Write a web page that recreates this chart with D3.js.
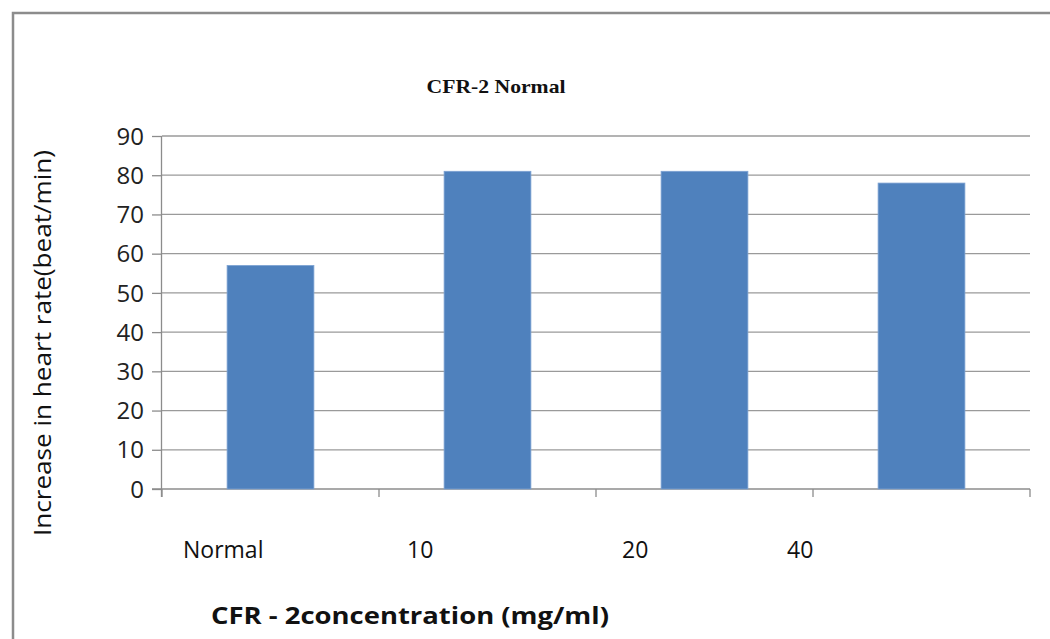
<!DOCTYPE html>
<html><head><meta charset="utf-8">
<script src="https://cdn.jsdelivr.net/npm/d3@7"></script>
<style>body{margin:0;background:#fff}svg{display:block}</style>
</head><body>
<svg id="c" width="1050" height="639"></svg>
<script>
const categories = ["Normal", "10", "20", "40"];
const values = [57, 81, 81, 78];
const yTicks = [0, 10, 20, 30, 40, 50, 60, 70, 80, 90];
const title = "CFR-2 Normal";
const yTitle = "Increase in heart rate(beat/min)";
const xTitle = "CFR - 2concentration (mg/ml)";

const svg = d3.select("#c");
const L = 162, R = 1030, T = 136, B = 489;
const x = d3.scaleBand().domain(categories).range([L, R]).paddingInner(0.6).paddingOuter(0.3);
const xb = d3.scaleBand().domain(categories).range([L, R]);
const y = d3.scaleLinear().domain([0, 90]).range([B, T]);

// outer border
svg.append("path").attr("d", `M13,639 V13 H1050`).attr("fill", "none").attr("stroke", "#8c8c8c").attr("stroke-width", 2.5);

// gridlines
svg.append("g").selectAll("line").data(yTicks.filter(d => d > 0)).join("line")
  .attr("x1", L).attr("x2", R).attr("y1", d => y(d)).attr("y2", d => y(d))
  .attr("stroke", "#9a9a9a").attr("stroke-width", 1.3);

// y axis
const ya = svg.append("g").attr("transform", `translate(${L},0)`)
  .call(d3.axisLeft(y).tickValues(yTicks).tickSize(10).tickPadding(8).tickFormat(d3.format("d")));
ya.select(".domain").attr("stroke", "#8c8c8c").attr("stroke-width", 1.3).attr("d", `M-0.5,${T}V${B + 8}`);
ya.selectAll(".tick line").attr("stroke", "#8c8c8c").attr("stroke-width", 1.3);
ya.selectAll(".tick text").attr("font-family", "Open Sans, sans-serif").attr("font-size", 24).attr("fill", "#222").attr("dy", "0.34em");

// x axis line + ticks at band boundaries
svg.append("line").attr("x1", L - 10).attr("x2", R).attr("y1", B).attr("y2", B).attr("stroke", "#8c8c8c").attr("stroke-width", 1.3);
const bounds = categories.map(c => xb(c)).concat([R]);
svg.append("g").selectAll("line").data(bounds).join("line")
  .attr("x1", d => d).attr("x2", d => d).attr("y1", B).attr("y2", B + 8)
  .attr("stroke", "#8c8c8c").attr("stroke-width", 1.3);

// bars
svg.append("g").selectAll("rect").data(values).join("rect")
  .attr("x", (d, i) => x(categories[i])).attr("width", x.bandwidth())
  .attr("y", d => y(d)).attr("height", d => B - y(d))
  .attr("fill", "#4f81bd").attr("stroke", "#7ea3d3").attr("stroke-width", 0.8);

// category labels (placed relative to band starts, as in the original)
const labelShift = [21, 28, 26, -26];
svg.append("g").selectAll("text").data(categories).join("text")
  .attr("x", (d, i) => xb(d) + labelShift[i]).attr("y", 558)
  .attr("font-family", "Open Sans, sans-serif").attr("font-size", 23).attr("fill", "#111")
  .text(d => d);

// title
svg.append("text").attr("x", 496).attr("y", 93).attr("text-anchor", "middle")
  .attr("font-family", "Liberation Serif, serif").attr("font-weight", "bold").attr("font-size", 19).attr("fill", "#111")
  .attr("textLength", 139).attr("lengthAdjust", "spacingAndGlyphs")
  .text(title);

// y title
svg.append("text").attr("transform", `translate(51,343) rotate(-90)`).attr("text-anchor", "middle")
  .attr("font-family", "Open Sans, sans-serif").attr("font-size", 23).attr("fill", "#111")
  .attr("textLength", 386).attr("lengthAdjust", "spacingAndGlyphs")
  .text(yTitle);

// x title
svg.append("text").attr("x", 211).attr("y", 624)
  .attr("font-family", "Open Sans, sans-serif").attr("font-weight", "bold").attr("font-size", 23).attr("fill", "#111")
  .attr("textLength", 398).attr("lengthAdjust", "spacingAndGlyphs")
  .text(xTitle);
</script>
</body></html>
